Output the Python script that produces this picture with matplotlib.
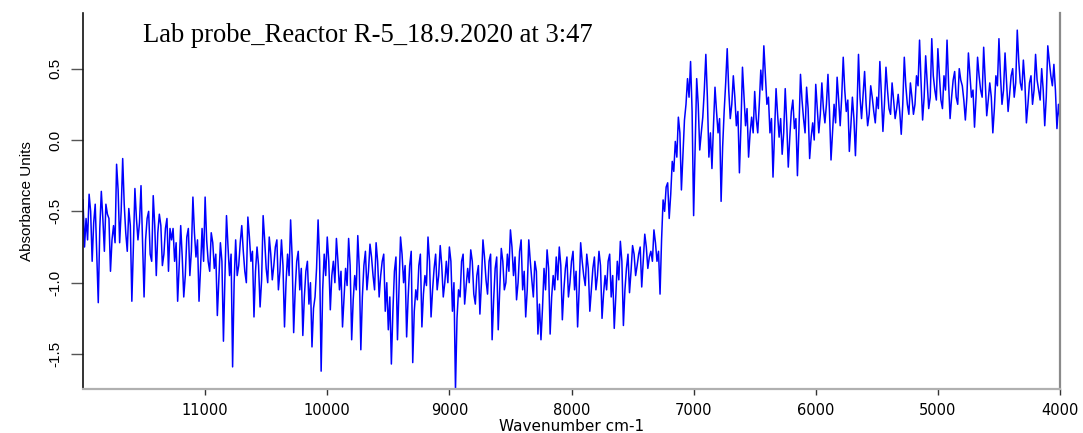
import numpy as np
import matplotlib
matplotlib.use("Agg")
import matplotlib.pyplot as plt

# absorbance, every 25 cm-1 from 12000 down to 4000
ab_12000 = [-0.42, -0.55, -0.38, -0.85, -0.45, -1.14, -0.36, -0.78, -0.52, -0.92,
            -0.60, -0.17, -0.72, -0.13, -0.65, -0.48, -1.13, -0.34, -0.70, -0.32,
            -1.10, -0.55, -0.80, -0.39, -0.95, -0.52, -0.88, -0.62, -0.92, -0.70,
            -0.85, -1.13, -0.60, -1.10, -0.68, -0.95, -0.40, -0.82, -1.13, -0.62]
ab_11000 = [-0.40, -0.85, -0.65, -0.90, -1.23, -0.72, -1.41, -0.53, -0.95, -1.59,
            -0.70, -0.88, -0.60, -0.92, -0.54, -0.85, -1.24, -0.75, -1.17, -0.53,
            -0.90, -0.68, -0.98, -0.75, -1.05, -0.70, -1.31, -0.80, -0.56, -1.35,
            -0.85, -1.05, -1.37, -0.92, -1.15, -1.45, -1.10, -0.56, -1.62, -0.80]
ab_10000 = [-0.68, -1.19, -0.85, -0.69, -1.05, -1.31, -0.90, -0.69, -1.40, -0.95,
            -0.67, -1.47, -0.88, -1.05, -0.73, -0.95, -0.72, -1.10, -0.85, -1.20,
            -1.33, -1.57, -0.92, -1.40, -0.68, -1.00, -1.38, -0.88, -1.56, -1.05,
            -0.88, -1.31, -0.95, -0.68, -1.24, -0.90, -1.05, -0.74, -1.10, -0.85]
ab_9000 = [-0.75, -1.20, -1.75, -1.05, -0.85, -1.15, -0.90, -0.77, -1.08, -0.95,
           -1.22, -0.70, -0.98, -0.85, -1.40, -0.90, -1.33, -0.76, -1.05, -0.80,
           -0.63, -0.95, -1.12, -0.78, -1.05, -1.24, -0.70, -0.98, -0.85, -1.36,
           -1.40, -0.90, -0.77, -1.36, -0.95, -0.82, -0.75, -1.26, -0.90, -1.10]
ab_8000 = [-0.85, -1.05, -1.31, -0.72, -0.95, -0.80, -1.20, -0.90, -1.05, -0.78,
           -1.25, -0.95, -0.85, -1.10, -1.32, -0.85, -0.71, -1.30, -0.90, -1.07,
           -0.74, -0.95, -0.80, -1.03, -0.66, -0.90, -0.78, -0.63, -0.85, -1.08,
           -0.42, -0.33, -0.55, -0.15, -0.01, 0.16, -0.35, 0.14, 0.43, 0.55]
ab_7000 = [-0.53, 0.43, -0.07, 0.16, 0.60, -0.12, -0.20, 0.37, 0.05, -0.43,
           0.20, 0.64, 0.15, 0.45, 0.10, -0.23, 0.51, 0.10, -0.12, 0.16,
           0.34, 0.05, 0.49, 0.66, 0.25, 0.05, -0.26, 0.36, 0.02, -0.10,
           0.36, -0.19, 0.20, 0.08, -0.25, 0.46, 0.15, 0.37, -0.13, 0.12]
ab_6000 = [0.39, 0.05, 0.40, 0.12, 0.46, -0.14, 0.25, 0.44, 0.10, 0.58,
           0.20, -0.08, 0.30, -0.11, 0.60, 0.15, 0.48, 0.10, 0.38, 0.20,
           0.30, 0.55, 0.06, 0.51, 0.22, 0.40, 0.15, 0.32, 0.04, 0.58,
           0.25, 0.40, 0.18, 0.45, 0.70, 0.14, 0.59, 0.22, 0.71, 0.35]
ab_5000 = [0.64, 0.28, 0.45, 0.70, 0.15, 0.42, 0.30, 0.50, 0.38, 0.14,
           0.61, 0.30, 0.09, 0.58, 0.35, 0.65, 0.17, 0.40, 0.05, 0.45,
           0.71, 0.25, 0.61, 0.20, 0.45, 0.30, 0.77, 0.40, 0.56, 0.12,
           0.40, 0.25, 0.60, 0.35, 0.50, 0.10, 0.66, 0.45, 0.53, 0.08, 0.14]

# the small wiggles read between each pair of points above
mid_12000 = [-0.75, -0.70, -0.50, -0.58, -0.80, -0.62, -0.55, -0.45, -0.55, -0.70,
             -0.72, -0.35, -0.50, -0.45, -0.78, -0.60, -0.75, -0.55, -0.58, -0.70,
             -0.70, -0.50, -0.85, -0.60, -0.65, -0.60, -0.80, -0.55, -0.62, -0.62,
             -0.72, -0.88, -0.82, -0.95, -0.62, -0.78, -0.65, -0.70, -0.90, -0.85]
mid_11000 = [-0.70, -0.92, -0.72, -0.80, -0.98, -0.85, -0.95, -0.75, -0.80, -1.00,
             -0.95, -0.72, -0.78, -1.00, -0.68, -0.78, -0.92, -0.88, -0.98, -0.70,
             -1.00, -0.80, -0.88, -0.70, -0.92, -0.88, -1.00, -0.95, -0.82, -1.05,
             -0.78, -0.90, -1.10, -0.85, -1.00, -1.18, -0.90, -0.85, -1.05, -0.95]
mid_10000 = [-0.85, -0.95, -1.00, -0.85, -0.92, -1.10, -1.02, -0.88, -1.12, -1.05,
             -0.90, -1.10, -0.78, -0.92, -0.82, -1.05, -0.85, -0.95, -0.80, -1.00,
             -1.10, -1.20, -0.82, -1.05, -0.80, -0.88, -1.10, -0.78, -1.20, -1.12,
             -0.80, -1.08, -1.02, -0.85, -1.05, -0.80, -0.95, -0.88, -1.00, -1.00]
mid_9000 = [-0.85, -1.00, -1.25, -1.10, -0.80, -1.02, -1.00, -0.85, -1.15, -0.88,
            -1.00, -0.82, -1.08, -0.80, -1.12, -0.82, -1.05, -0.85, -1.00, -0.92,
            -0.75, -0.82, -1.00, -0.70, -0.92, -1.05, -0.85, -1.10, -0.92, -1.15,
            -1.18, -1.05, -0.90, -1.10, -1.05, -0.98, -0.88, -1.05, -0.82, -1.00]
mid_8000 = [-0.78, -0.92, -1.05, -0.85, -1.02, -0.90, -1.05, -0.82, -0.95, -0.88,
            -1.08, -1.05, -0.80, -0.95, -1.10, -0.98, -0.85, -1.05, -0.80, -0.92,
            -0.80, -0.88, -0.75, -0.85, -0.75, -0.82, -0.85, -0.72, -0.78, -0.70,
            -0.50, -0.30, -0.38, -0.22, -0.12, 0.05, -0.10, 0.25, 0.30, 0.20]
mid_7000 = [-0.05, 0.25, 0.05, 0.35, 0.30, 0.05, 0.10, 0.20, 0.15, -0.05,
            0.40, 0.35, 0.25, 0.30, 0.20, 0.10, 0.30, 0.22, 0.05, 0.05,
            0.15, 0.25, 0.35, 0.45, 0.30, 0.15, 0.05, 0.18, 0.15, 0.05,
            0.12, 0.02, 0.28, 0.15, 0.08, 0.28, 0.05, 0.22, 0.02, 0.00]
mid_6000 = [0.22, 0.18, 0.22, 0.25, 0.20, 0.05, 0.12, 0.28, 0.30, 0.35,
            0.28, 0.10, 0.15, 0.20, 0.30, 0.32, 0.25, 0.18, 0.30, 0.12,
            0.22, 0.32, 0.25, 0.35, 0.18, 0.28, 0.22, 0.20, 0.25, 0.38,
            0.18, 0.30, 0.25, 0.38, 0.40, 0.30, 0.40, 0.30, 0.45, 0.28]
mid_5000 = [0.45, 0.22, 0.35, 0.40, 0.30, 0.48, 0.25, 0.42, 0.28, 0.30,
            0.45, 0.35, 0.30, 0.45, 0.30, 0.42, 0.28, 0.30, 0.22, 0.38,
            0.45, 0.35, 0.40, 0.32, 0.50, 0.40, 0.55, 0.35, 0.40, 0.25,
            0.45, 0.35, 0.42, 0.28, 0.35, 0.30, 0.55, 0.38, 0.35, 0.25]

main = ab_12000 + ab_11000 + ab_10000 + ab_9000 + ab_8000 + ab_7000 + ab_6000 + ab_5000
mids = mid_12000 + mid_11000 + mid_10000 + mid_9000 + mid_8000 + mid_7000 + mid_6000 + mid_5000
absorbance = np.empty(len(main) + len(mids))
absorbance[0::2] = main
absorbance[1::2] = mids
wavenumber = np.linspace(12000, 4000, len(absorbance))

x_ticks = [11000, 10000, 9000, 8000, 7000, 6000, 5000, 4000]
y_ticks = [-1.5, -1.0, -0.5, 0.0, 0.5]
title = "Lab probe_Reactor R-5_18.9.2020 at 3:47"

fig = plt.figure(figsize=(10.83, 4.33), dpi=100)
ax = fig.add_axes([83/1083, 1-389/433, 977/1083, 376/433])
ax.plot(wavenumber, absorbance, color="#0000ff", lw=1.1)

ax.set_xlim(12000, 4000)
ax.set_ylim(-1.745, 0.89)
ax.set_xticks(x_ticks)
ax.set_xticklabels([str(t) for t in x_ticks], family="DejaVu Sans", fontsize=10.5)
ax.set_yticks(y_ticks)
ax.set_yticklabels(["%.1f" % t for t in y_ticks], rotation=90, va="center",
                   family=["Liberation Sans Narrow", "Liberation Sans"], fontsize=11)
ax.tick_params(axis="x", length=4, width=1, color="#333333", pad=6)
ax.tick_params(axis="y", length=9, width=1, color="#555555", pad=6)

ax.spines["top"].set_visible(False)
ax.spines["left"].set_color("#111111")
ax.spines["left"].set_linewidth(1.2)
ax.spines["bottom"].set_color("#b0b0b0")
ax.spines["bottom"].set_linewidth(1.6)
ax.spines["right"].set_color("#8a8a8a")
ax.spines["right"].set_linewidth(1.6)

ax.set_xlabel("Wavenumber cm-1", family="DejaVu Sans", fontsize=11, labelpad=1)
ax.set_ylabel("Absorbance Units", family=["Liberation Sans Narrow", "Liberation Sans"],
              fontsize=11, labelpad=10)
ax.text(0.0614, 0.923, title, transform=ax.transAxes, family="Liberation Serif",
        fontsize=19.2, va="baseline", ha="left")

fig.savefig("out.png", dpi=100)
